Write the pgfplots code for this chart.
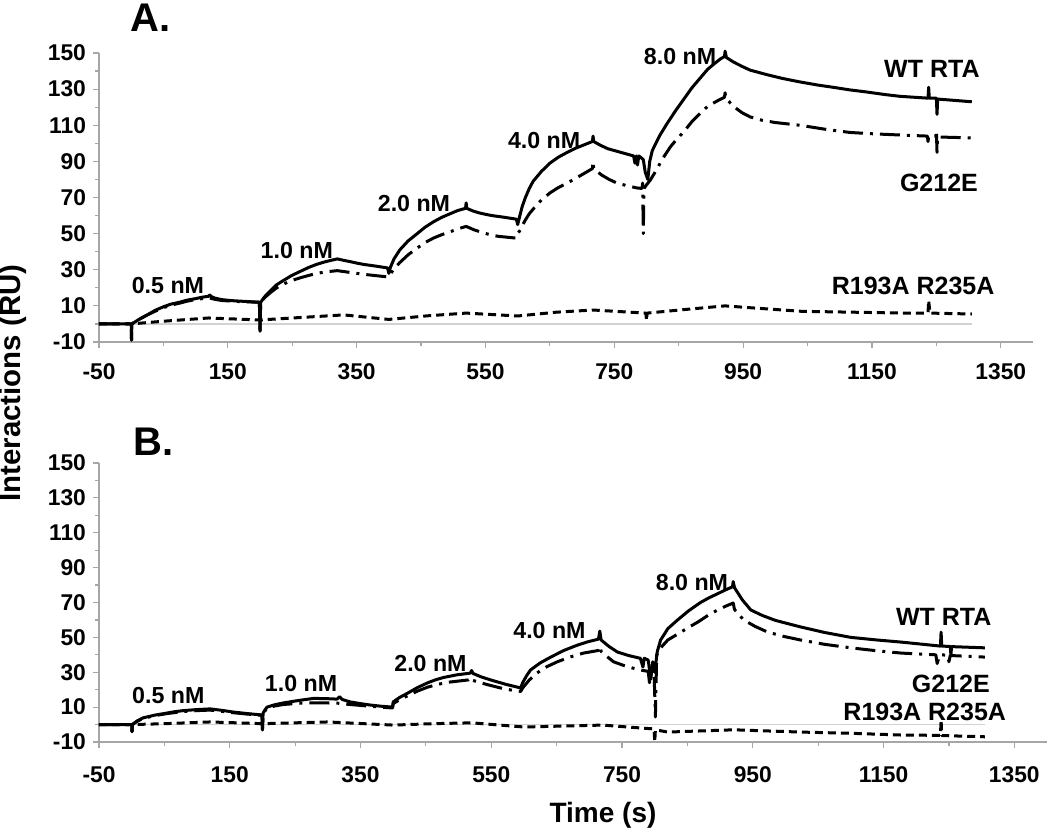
\documentclass[border=0pt]{standalone}
\usepackage{pgfplots}
\pgfplotsset{compat=1.18}
\usepackage{fontspec}
\setmainfont{Liberation Sans}

\newcommand{\tickfont}{\fontsize{11.4}{12}\selectfont\bfseries}
\newcommand{\concfont}{\fontsize{11.6}{12}\selectfont\bfseries}
\newcommand{\namefont}{\fontsize{12.5}{13}\selectfont\bfseries}

\pgfplotsset{
  spr/.style={
    scale only axis,
    xmin=-50, xmax=1400,
    ymin=-10, ymax=150,
    axis x line=bottom, axis y line=left,
    axis line style={draw=gray!70, line width=0.6pt, -},
    tick style={draw=gray!70, line width=0.6pt},
    tick align=outside,
    major tick length=3pt, minor tick length=2pt,
    xtick={-50,150,...,1350},
    ytick={-10,10,...,150},
    minor x tick num=1, minor y tick num=1,
    ticklabel style={font=\tickfont},
    /pgf/number format/assume math mode=true,
    /pgf/number format/1000 sep={},
    clip=false,
  },
  wt/.style={black, line width=1.5pt, solid, line join=round},
  g212/.style={black, line width=1.5pt, line join=round, dash pattern=on 10pt off 3.5pt on 1.5pt off 3.5pt},
  rr/.style={black, line width=1.5pt, line join=round, dash pattern=on 4pt off 2.5pt},
  zero/.style={gray!35, line width=0.8pt},
}

\begin{document}
\begin{tikzpicture}
% panel A
\begin{axis}[spr, at={(49.5pt,245pt)}, anchor=south west, width=467pt, height=144.5pt,
  xticklabel style={yshift=-4.5pt}]
\addplot[zero] coordinates {(-50,0)(1305,0)};
\addplot[rr] coordinates {
(-50,0)(0,0)(50,1.5)(120,3.3)(200,2.2)(260,3.5)(330,5)(400,2.5)(460,4.5)(520,6)(600,4.4)(660,6.5)(717,7.7)(799,6)(800,2)(801,6)(860,8)(922,10)(960,9)(1040,7)(1200,6)(1237,6)(1238,13)(1240,6)(1305,5.5)};
\addplot[g212] coordinates {
(-50,0)(0,0)(0.5,-9)(1,0)(12,2.5)(25,5)(37,7)(50,9)(62,10.4)(75,11.5)(87,12.6)(100,13.5)(120,14.5)(130,13.6)(140,13)(160,12.5)(199,12)(200,-4)(201,12)
(207,14.5)(215,17)(225,19.8)(236,22)(249,24)(262,25.5)(275,26.8)(288,28)(304,28.9)(320,29.5)(340,28.5)(360,27.5)(386,26.5)(399,26)
(408,30.5)(417,34)(430,38.3)(444,42)(456,45)(469,47.5)(482,49.4)(495,51)(507,52.6)(520,54)(533,52)(546,50.5)(558,49.3)(570,48.5)(598,47.5)
(600,50)(604,52)(611,57)(618,61)(625,64)(637,68.7)(650,72.5)(663,75.5)(677,78)(692,81)(704,83.5)(716,86)(717,90)(718,86)(730,82.5)(742,80)(754,78)(770,76.5)(785,75.3)
(793,75)(794,78)(795,50)(796,75)(800,77)(806,79.7)(815,85)(825,91.5)(837,98)(847,102.3)(857,106)(870,111.8)(883,116.5)(895,120.5)(910,123.5)(921,125.5)(922,128)(923,125)
(935,120.5)(948,117)(961,114.6)(980,112.7)(1000,111.5)(1038,110)(1077,107.8)(1116,106)(1155,105.2)(1194,104.6)(1236,104)(1237,101)(1238,104)(1249,104)(1250,107)(1251,95)(1252,103.5)(1305,103)};
\addplot[wt] coordinates {
(-50,0)(0,0)(0.5,-9)(1,0)(12,2.5)(25,5)(37,7.5)(50,9.5)(62,11)(75,12)(87,13.2)(100,14)(110,14.8)(120,15.3)(122,16)(124,15.2)(130,14.3)(140,13.5)(150,13.1)(160,12.8)(180,12.4)(199,12)(200,-4)(201,12)
(207,15)(215,18)(225,21.5)(236,24)(249,26.8)(262,29)(275,31.2)(288,33)(300,34.3)(310,35.2)(320,36)(330,35.2)(340,34.5)(350,33.7)(360,33)(380,32)(398,31)(400,28)(402,31)
(408,36)(417,41)(430,46)(444,50)(456,53.5)(469,56.5)(482,59)(495,61)(507,62.8)(519,64)(520,67)(521,64)(530,62.6)(540,61.5)(550,60.7)(560,60)(580,59)(598,58)(600,55)(602,58)
(607,65)(612,70)(618,75)(624,79)(637,84.5)(650,89)(663,92.3)(677,95)(690,97.3)(702,99)(716,101)(717,104)(718,101)(728,99)(740,97)(750,96)(760,95)(770,94)(780,93)
(782,89)(784,93)(786,88)(788,93)(790,92.5)(795,91)(798,84)(802,80)(805,90)(809,96)(820,104)(832,111)(845,118)(857,124)(870,130.5)(883,136)(895,141)(905,144)(915,146.8)(921,148)(922,151)(924,147.5)
(935,145)(950,142.3)(961,140.5)(987,138)(1010,136)(1038,134)(1065,132.3)(1090,131)(1115,129.6)(1142,128.4)(1170,127)(1194,126)(1237,125)(1238,131)(1239,125)(1250,125)(1251,116)(1252,124.5)(1305,123)};
\node[font=\concfont] at (axis cs:57,21) {0.5 nM};
\node[font=\concfont] at (axis cs:257,40.4) {1.0 nM};
\node[font=\concfont] at (axis cs:439,66.4) {2.0 nM};
\node[font=\concfont] at (axis cs:641,101.8) {4.0 nM};
\node[font=\concfont] at (axis cs:852,147.8) {8.0 nM};
\node[font=\namefont] at (axis cs:1243,141) {WT RTA};
\node[font=\namefont] at (axis cs:1254,78) {G212E};
\node[font=\namefont] at (axis cs:1214,21) {R193A R235A};
\end{axis}
% panel B
\begin{axis}[spr, at={(49.5pt,45pt)}, anchor=south west, width=474pt, height=139.5pt,
  xticklabel style={yshift=-6pt}]
\addplot[zero] coordinates {(-50,0)(1305,0)};
\addplot[rr] coordinates {
(-50,0)(0,0)(0.5,-4)(1,0)(50,0.5)(120,1.5)(200,0.5)(300,1.5)(400,-0.3)(460,0.5)(520,1)(600,-1.4)(720,-0.3)(780,-2)(799,-2.5)(800,-10)(801,-3)(820,-4.3)(921,-3)(1023,-4.3)(1100,-5)(1177,-6)(1237,-6.2)(1238,2.6)(1239,-6.3)(1305,-7)};
\addplot[g212] coordinates {
(-50,0)(0,0)(0.5,-4)(1,0)(8,1.8)(17,3.5)(35,5.1)(54,6.3)(79,7.5)(100,8)(120,8.3)(137,7.6)(155,6.8)(177,6)(199,5.3)(200,-3)(201,6.3)
(207,9.5)(218,10.6)(232,11.5)(255,12.2)(278,12.5)(314,12.3)(334,11.5)(365,10.5)(399,9.5)
(400,12)(410,14.3)(422,16.5)(437,19.2)(453,21.5)(470,23.2)(487,24.4)(515,25.6)(520,27)(522,25.3)(543,23)(564,21)(580,19.8)(595,19)
(598,21)(608,25.5)(620,29.6)(635,33.2)(651,36)(671,38.8)(691,41)(714,42.5)(716,45)(718,42)(727,39)(737,36)(757,33.3)(778,31.3)
(790,30.5)(792,24)(794,30)(799,30)(801,4.3)(803,40)(811,44.8)(820,48.5)(840,53)(853,56)(866,58.8)(881,62.5)(896,65.7)(908,67.8)(920,69.7)(922,66)
(936,60)(954,56.2)(973,53)(998,50.5)(1023,48.5)(1060,46)(1100,44)(1140,42.3)(1177,41)(1230,40)(1232,35)(1236,40)(1248,39.8)(1250,36)(1252,39.6)(1305,38.7)};
\addplot[wt] coordinates {
(-50,0)(0,0)(0.5,-4)(1,0)(8,2)(17,3.8)(35,5.4)(54,6.6)(66,7.4)(79,8)(100,8.6)(120,9)(137,8.2)(155,7.2)(177,6.3)(199,5.5)(200,-3)(201,6.6)
(204,8.5)(207,10)(218,11.3)(232,12.4)(255,13.8)(278,15)(296,14.9)(314,14.6)(318,16)(322,14.4)(334,13)(350,12)(365,11.2)(382,10.5)(399,10)
(400,13)(410,15.6)(422,18)(437,21.2)(453,24)(465,25.7)(477,27)(497,28.5)(518,29.5)(520,31)(522,29.3)(535,27.3)(549,25.6)(572,23.1)(595,21)
(598,24)(604,28)(610,31.3)(625,35.4)(641,38.7)(661,42.5)(682,45.6)(698,47.5)(714,49)(716,53.6)(718,48.5)(730,44.8)(743,41.6)(760,39.6)(778,38)
(782,33)(784,38)(790,37)(794,26)(797,36)(800,30)(804,42)(809,48.5)(815,52)(820,55)(835,60)(852,65.3)(870,70)(883,72.7)(896,75)(908,77.2)(919,79)(920,82)(922,78.5)
(934,71.5)(947,65.7)(965,62.5)(985,59.7)(1023,56)(1060,52.8)(1100,50)(1140,48.5)(1177,47.3)(1237,45)(1238,53)(1239,45)(1252,44.8)(1253,40)(1254,44.7)(1305,44)};
\node[font=\concfont] at (axis cs:56,16.4) {0.5 nM};
\node[font=\concfont] at (axis cs:259,23.8) {1.0 nM};
\node[font=\concfont] at (axis cs:457,35.3) {2.0 nM};
\node[font=\concfont] at (axis cs:639,54.2) {4.0 nM};
\node[font=\concfont] at (axis cs:857,81.7) {8.0 nM};
\node[font=\namefont] at (axis cs:1242,62) {WT RTA};
\node[font=\namefont] at (axis cs:1253,23.3) {G212E};
\node[font=\namefont] at (axis cs:1213,7.2) {R193A R235A};
\end{axis}
% panel letters and shared labels
\node[anchor=base west, inner sep=0pt, font=\fontsize{20}{22}\selectfont\bfseries] at (65pt,400pt) {A.};
\node[anchor=base west, inner sep=0pt, font=\fontsize{20}{22}\selectfont\bfseries] at (66.5pt,188.5pt) {B.};
\node[rotate=90, inner sep=0pt, font=\fontsize{14.7}{16}\selectfont\bfseries] at (6.5pt,224.5pt) {Interactions (RU)};
\node[anchor=base, inner sep=0pt, font=\fontsize{14}{16}\selectfont\bfseries] at (301.5pt,5pt) {Time (s)};
\pgfresetboundingbox
\path (0,0) rectangle (525pt,416pt);
\end{tikzpicture}
\end{document}
